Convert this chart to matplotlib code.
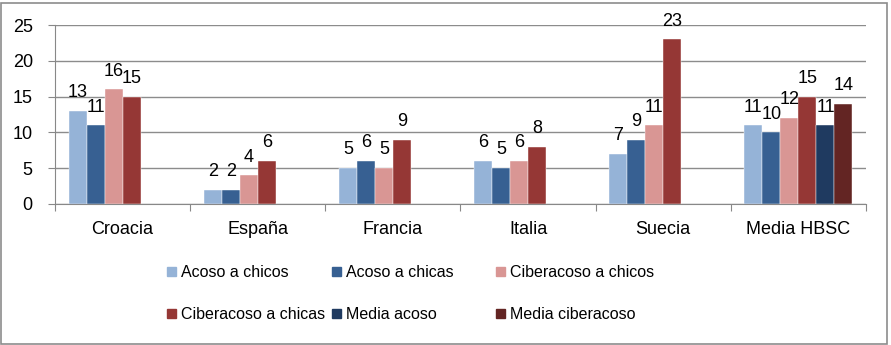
import numpy as np
import matplotlib.pyplot as plt
from matplotlib.patches import Rectangle, Patch

plt.rcParams['font.family'] = ['Liberation Sans', 'DejaVu Sans']

paises = ['Croacia', 'España', 'Francia', 'Italia', 'Suecia', 'Media HBSC']
series = ['Acoso a chicos', 'Acoso a chicas', 'Ciberacoso a chicos',
          'Ciberacoso a chicas', 'Media acoso', 'Media ciberacoso']
acoso_chicos = [13, 2, 5, 6, 7, 11]
acoso_chicas = [11, 2, 6, 5, 9, 10]
ciber_chicos = [16, 4, 5, 6, 11, 12]
ciber_chicas = [15, 6, 9, 8, 23, 15]
media_acoso = [np.nan, np.nan, np.nan, np.nan, np.nan, 11]
media_ciber = [np.nan, np.nan, np.nan, np.nan, np.nan, 14]
colores = ['#95B3D7', '#376092', '#D99694', '#953735', '#1F3A60', '#632523']

valores = [acoso_chicos, acoso_chicas, ciber_chicos, ciber_chicas, media_acoso, media_ciber]

fig = plt.figure(figsize=(8.91, 3.45), dpi=100)
ax = fig.add_axes([55/891, 1 - 204/345, 811/891, 179/345])

x = np.arange(len(paises))
w = 1 / 7.5
for k, (vals, col) in enumerate(zip(valores, colores)):
    pos = x - 0.5 + 0.75 * w + (k + 0.5) * w
    ax.bar(pos, vals, width=w, color=col, edgecolor='white', linewidth=0.3)
    for p, v in zip(pos, vals):
        if not np.isnan(v):
            ax.annotate(f'{v:g}', (p, v), xytext=(0, 7), textcoords='offset points',
                        ha='center', va='bottom', fontsize=13)

ax.set_xlim(-0.5, len(paises) - 0.5)
ax.set_ylim(0, 25)
ax.set_yticks(range(0, 26, 5))
ax.set_xticks(np.arange(-0.5, len(paises), 1))
ax.set_xticklabels([])
ax.set_xticks(x, minor=True)
ax.set_xticklabels(paises, minor=True, fontsize=13)
ax.tick_params(axis='x', which='minor', length=0, pad=12)
ax.tick_params(axis='x', which='major', length=5, color='#888888')
ax.tick_params(axis='y', length=5, color='#888888', labelsize=13, pad=11)
ax.grid(axis='y', color='#8C8C8C', linewidth=1)
ax.set_axisbelow(True)
for s in ['top', 'right']:
    ax.spines[s].set_visible(False)
ax.spines['left'].set_color('#888888')
ax.spines['bottom'].set_color('#888888')

handles = [Patch(color=c) for c in colores]
col_x = [167, 332, 496]
for j in range(3):
    hs = [handles[j], handles[j + 3]]
    ls = [series[j], series[j + 3]]
    fig.legend(hs, ls, loc='upper left', bbox_to_anchor=(col_x[j] / 891, 1 - 265 / 345),
               frameon=False, fontsize=11.5, handlelength=0.55, handleheight=0.55,
               handletextpad=0.3, labelspacing=1.7, borderpad=0, borderaxespad=0)

fig.patches.append(Rectangle((1 / 891, 1 / 345), 886 / 891, 341 / 345, transform=fig.transFigure,
                             fill=False, edgecolor='#8C8C8C', linewidth=1.2))

fig.savefig('out.png', dpi=100)
